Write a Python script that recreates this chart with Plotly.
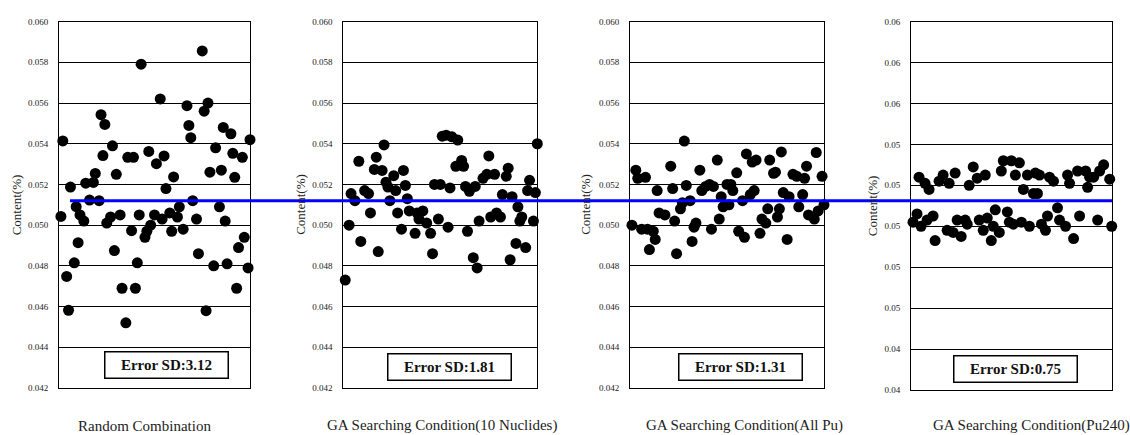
import plotly.graph_objects as go

# ---------------- data ----------------
y_ticks = [0.042, 0.044, 0.046, 0.048, 0.050, 0.052, 0.054, 0.056, 0.058, 0.060]
reference_value = 0.0512

panel_titles = ["Random Combination",
                "GA Searching Condition(10 Nuclides)",
                "GA Searching Condition(All Pu)",
                "GA Searching Condition(Pu240)"]
error_sd = ["3.12", "1.81", "1.31", "0.75"]

rc_x = [1, 2, 4, 5, 6, 8, 9, 10, 11, 13, 14, 16, 18, 19, 21, 22, 23, 24, 25, 27,
        28, 29, 30, 32, 33, 35, 36, 38, 39, 40, 41, 42, 43, 45, 46, 47, 48, 50, 51, 53,
        54, 55, 56, 58, 59, 60, 62, 63, 65, 67, 68, 69, 70, 72, 73, 75, 76, 77, 78, 79,
        81, 82, 84, 85, 86, 87, 88, 90, 91, 92, 93, 94, 96, 97, 99, 100]
rc_y = [0.05043, 0.05414, 0.04748, 0.04582, 0.05187, 0.04815, 0.05091, 0.04914, 0.0505, 0.0502,
        0.05206, 0.05123, 0.0521, 0.05254, 0.0512, 0.05543, 0.05342, 0.05495, 0.0501, 0.0504,
        0.0539, 0.04875, 0.0525, 0.0505, 0.0469, 0.0452, 0.05333, 0.04973, 0.05333, 0.0469,
        0.04815, 0.0505, 0.05791, 0.0494, 0.0497, 0.05362, 0.0500, 0.0505, 0.05302, 0.0562,
        0.0503, 0.0534, 0.0518, 0.0506, 0.0497, 0.05237, 0.0504, 0.0509, 0.0498, 0.05587,
        0.0549, 0.0543, 0.0512, 0.0503, 0.0486, 0.05856, 0.0556, 0.0458, 0.0560, 0.0526,
        0.0480, 0.0538, 0.0509, 0.0527, 0.0548, 0.0502, 0.0481, 0.05449, 0.05353, 0.05235,
        0.0469, 0.0489, 0.05333, 0.0494, 0.0479, 0.0542]

n10_x = [1, 3, 4, 6, 8, 9, 11, 13, 14, 16, 17, 18, 20, 21, 22, 23, 24, 26, 27, 28,
         30, 31, 32, 33, 34, 37, 38, 39, 41, 43, 45, 46, 47, 49, 50, 51, 53, 54, 55, 56,
         58, 59, 61, 62, 63, 64, 65, 67, 68, 69, 70, 72, 74, 75, 76, 78, 79, 81, 82, 84,
         85, 86, 87, 89, 90, 91, 92, 94, 95, 96, 98, 99, 100]
n10_y = [0.0473, 0.0500, 0.05155, 0.0512, 0.05314, 0.0492, 0.0517, 0.05155, 0.0506, 0.05274,
         0.05334, 0.0487, 0.05269, 0.05394, 0.05211, 0.05187, 0.0512, 0.05243, 0.0517, 0.0506,
         0.0498, 0.05269, 0.05195, 0.0513, 0.0507, 0.0496, 0.0506, 0.0503, 0.0507, 0.0501,
         0.0496, 0.0486, 0.0520, 0.0503, 0.0520, 0.05437, 0.05442, 0.0499, 0.05183, 0.05434,
         0.05289, 0.05418, 0.05318, 0.05289, 0.0519, 0.0497, 0.05166, 0.0484, 0.0519, 0.0479,
         0.0502, 0.0523, 0.0525, 0.0534, 0.0504, 0.0525, 0.0506, 0.0504, 0.0515, 0.0524,
         0.0528, 0.0483, 0.0514, 0.0491, 0.0509, 0.0502, 0.0504, 0.0489, 0.0517, 0.0522,
         0.0502, 0.0516, 0.0540]

pu_x = [1, 3, 4, 6, 8, 9, 10, 12, 13, 14, 15, 18, 21, 22, 23, 24, 26, 27, 28, 29,
        31, 32, 33, 34, 36, 37, 39, 41, 42, 43, 45, 46, 47, 48, 50, 51, 52, 53, 55, 56,
        58, 59, 60, 62, 63, 64, 65, 67, 68, 70, 71, 72, 74, 75, 76, 77, 78, 79, 81, 82,
        84, 86, 87, 89, 90, 91, 92, 95, 96, 97, 99, 100]
pu_y = [0.0500, 0.0527, 0.0523, 0.0498, 0.05235, 0.0498, 0.0488, 0.0497, 0.0493, 0.0517,
        0.0506, 0.0505, 0.0529, 0.0518, 0.0502, 0.0486, 0.0508, 0.0511, 0.05413, 0.05195,
        0.0512, 0.0492, 0.0499, 0.0501, 0.0527, 0.0517, 0.0519, 0.0520, 0.0498, 0.0519,
        0.0532, 0.0503, 0.0514, 0.0509, 0.0520, 0.0510, 0.0520, 0.0517, 0.05257, 0.0497,
        0.0512, 0.0494, 0.0535, 0.0515, 0.0531, 0.0517, 0.0532, 0.0496, 0.0503, 0.0501,
        0.0508, 0.0532, 0.05255, 0.0526, 0.0504, 0.0508, 0.0536, 0.0516, 0.0493, 0.0514,
        0.0525, 0.0524, 0.0509, 0.0515, 0.0523, 0.0529, 0.0505, 0.0503, 0.05357, 0.0507,
        0.0524, 0.0510]

pu240_x = [1, 3, 4, 5, 7, 8, 9, 11, 12, 14, 16, 18, 19, 21, 22, 23, 25, 27, 28, 29,
           31, 33, 34, 36, 37, 38, 40, 41, 42, 44, 45, 46, 48, 49, 50, 51, 52, 54, 55, 56,
           58, 59, 61, 62, 63, 64, 65, 67, 68, 69, 71, 73, 74, 77, 78, 79, 81, 83, 84, 87,
           88, 89, 91, 93, 94, 96, 99, 100]
pu240_y = [0.0502, 0.0506, 0.0524, 0.0500, 0.0521, 0.0503, 0.0518, 0.0505, 0.0493, 0.0522,
           0.0525, 0.0498, 0.0521, 0.0497, 0.0526, 0.0503, 0.0495, 0.0503, 0.0501, 0.0520,
           0.0529, 0.05235, 0.0503, 0.0498, 0.0525, 0.0504, 0.0493, 0.0500, 0.0508, 0.0497,
           0.0527, 0.0532, 0.0507, 0.0502, 0.0532, 0.0501, 0.0525, 0.0531, 0.0502, 0.0518,
           0.0525, 0.0500, 0.0516, 0.0526, 0.0516, 0.0525, 0.0501, 0.0498, 0.0505, 0.0524,
           0.0522, 0.0509, 0.0503, 0.0500, 0.0525, 0.0521, 0.0494, 0.0527, 0.0505, 0.0527,
           0.0519, 0.0524, 0.0524, 0.0503, 0.0527, 0.0530, 0.0523, 0.0500]

series_x = [rc_x, n10_x, pu_x, pu240_x]
series_y = [rc_y, n10_y, pu_y, pu240_y]

# ---------------- layout geometry ----------------
W, H = 1130, 435
SERIF = "Liberation Serif, Times New Roman, serif"
x_domains_px = [(59, 250), (343.3, 537.3), (630, 824), (911, 1111.7)]
y_domains_px = [(17, 392), (17, 392), (17, 392), (17, 394)]
ytitle_x_px = [16.5, 301, 586, 872.5]
xlabel_x_px = [144, 442, 744, 1031]
box_center_px = [(166.2, 368), (449.8, 370.3), (740.3, 370.3), (1015.3, 373)]
box_size_px = (124, 27)
tickfmt = [".3f", ".3f", ".3f", ".2f"]

fig = go.Figure()
annotations = []
for i in range(4):
    xa = "x" if i == 0 else f"x{i+1}"
    ya = "y" if i == 0 else f"y{i+1}"
    fig.add_trace(go.Scatter(
        x=series_x[i], y=series_y[i], mode="markers", xaxis=xa, yaxis=ya,
        marker=dict(size=11, color="black"), cliponaxis=False, showlegend=False,
        hoverinfo="skip"))
    x0, x1 = x_domains_px[i]
    yt, yb = y_domains_px[i]
    fig.update_layout(**{
        ("xaxis" if i == 0 else f"xaxis{i+1}"): dict(
            domain=[x0 / W, x1 / W], range=[0, 100], anchor=ya,
            showgrid=False, zeroline=False, showticklabels=False, ticks="",
            showline=True, mirror=True, linecolor="black", linewidth=1),
        ("yaxis" if i == 0 else f"yaxis{i+1}"): dict(
            domain=[1 - yb / H, 1 - yt / H], range=[y_ticks[0], y_ticks[-1]],
            anchor=xa, tickvals=y_ticks, tickformat=tickfmt[i],
            showgrid=True, gridcolor="black", gridwidth=1, zeroline=False,
            ticks="", ticklabelstandoff=8,
            tickfont=dict(family=SERIF, size=9, color="#222"),
            showline=True, mirror=True, linecolor="black", linewidth=1),
    })
    annotations.append(dict(
        text="Content(%)", xref="paper", yref="paper", x=ytitle_x_px[i] / W,
        y=1 - ((yt + yb) / 2) / H, textangle=-90, showarrow=False,
        xanchor="center", yanchor="middle",
        font=dict(family=SERIF, size=13, color="#222")))
    annotations.append(dict(
        text=panel_titles[i], xref="paper", yref="paper", x=xlabel_x_px[i] / W,
        y=0, yshift=-6, showarrow=False, xanchor="center", yanchor="bottom",
        font=dict(family=SERIF, size=15, color="#222")))
    bx, by = box_center_px[i]
    annotations.append(dict(
        text=f"<b>Error SD:{error_sd[i]}</b>", xref="paper", yref="paper",
        x=bx / W, y=1 - by / H, showarrow=False, xanchor="center", yanchor="middle",
        width=box_size_px[0] - 4, height=box_size_px[1] - 4, borderpad=1,
        bordercolor="black", borderwidth=1.5, bgcolor="white", align="center",
        valign="middle", font=dict(family=SERIF, size=15, color="#111")))

fig.add_shape(type="line", xref="paper", yref="y", x0=70 / W, x1=1112 / W,
              y0=reference_value, y1=reference_value,
              line=dict(color="#0000FF", width=3), layer="above")

fig.update_layout(width=W, height=H, margin=dict(l=0, r=0, t=0, b=0),
                  paper_bgcolor="white", plot_bgcolor="white",
                  annotations=annotations, showlegend=False)

fig.write_html("out.html", config={"displayModeBar": False},
               post_script="document.body.style.margin='0px';"
                           "document.body.style.overflow='hidden';")
